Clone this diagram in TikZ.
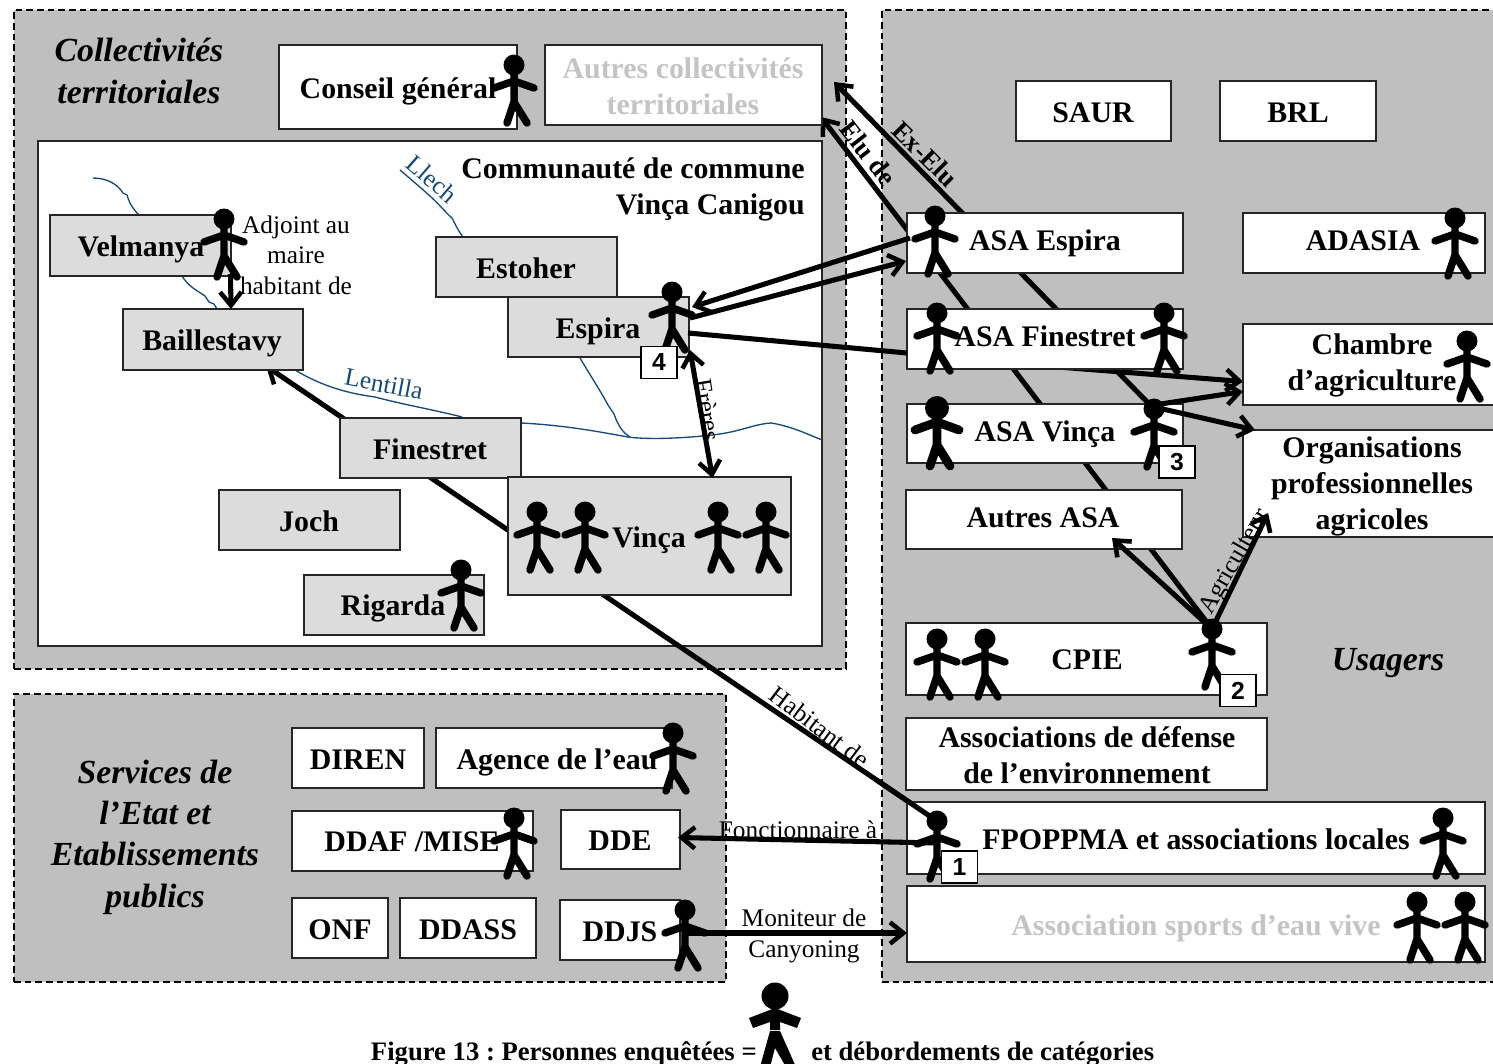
\documentclass[tikz,border=0pt]{standalone}
\usepackage{fontspec}
\setmainfont{Liberation Serif}
\newfontfamily\badgefont{Liberation Sans}
\usetikzlibrary{arrows.meta,calc}
\pgfdeclarelayer{panels}
\pgfdeclarelayer{under}
\pgfsetlayers{panels,under,main}
\definecolor{panelgrey}{HTML}{BFBFBF}
\definecolor{boxgrey}{HTML}{DCDCDC}
\definecolor{fadedtext}{HTML}{C4C4C4}
\definecolor{river}{HTML}{174A7C}
\tikzset{
  panel/.style={draw=black,line width=1.9pt,dashed,dash pattern=on 5pt off 3pt,fill=panelgrey},
  boxw/.style={draw=black!85,line width=1.1pt,fill=white},
  boxg/.style={draw=black!85,line width=1.1pt,fill=boxgrey},
  badge/.style={draw=black,line width=1pt,fill=white,inner sep=0pt,outer sep=0pt,minimum width=27pt,minimum height=24pt,font=\badgefont\bfseries\fontsize{18.5}{20}\selectfont},
  boldt/.style={font=\fontsize{22.4}{27}\selectfont\bfseries,inner sep=0pt,anchor=base},
  boldm/.style={font=\fontsize{22.4}{27}\selectfont\bfseries,inner sep=0pt,align=center},
  ital/.style={font=\fontsize{25.3}{31}\selectfont\bfseries\itshape,inner sep=0pt,align=center},
  lab/.style={font=\fontsize{19}{23}\selectfont,inner sep=0pt,align=center},
  labb/.style={font=\fontsize{20}{23}\selectfont\bfseries,inner sep=0pt},
  riverlab/.style={font=\fontsize{19}{23}\selectfont,inner sep=0pt,text=river},
  capt/.style={font=\fontsize{20}{23}\selectfont\bfseries\frenchspacing,inner sep=0pt,anchor=base},
  conn/.style={draw=black,line width=3.8pt},
  tip/.style={-{Straight Barb[length=10pt,width=16pt,line width=3.4pt]}},
  tips/.style={{Straight Barb[length=10pt,width=16pt,line width=3.4pt]}-{Straight Barb[length=10pt,width=16pt,line width=3.4pt]}},
  riv/.style={draw=river,line width=1pt},
  stick/.pic={
    \fill[black] (0,0) circle (10.5);
    \draw[black,line width=5.6pt,line cap=round,line join=round]
      (0,0) -- (0,37) (-20,23) -- (0,16) -- (20,23) (-7,58) -- (0,37) -- (13,58);
  },
  stickb/.pic={
    \fill[black] (0,0) circle (12);
    \draw[black,line width=6.6pt,line cap=round,line join=round]
      (0,0) -- (0,37) (-22,22) -- (0,14) -- (22,22) (-7,58) -- (0,37) -- (13,58);
  }
}
\newcommand{\bx}[6]{%
  \pgfmathsetmacro{\bw}{(#4-#2)*0.75}\pgfmathsetmacro{\bh}{(#5-#3)*0.75}%
  \node[#6,inner sep=0pt,outer sep=0pt,minimum width=\bw pt,minimum height=\bh pt] (#1) at ({(#2+#4)/2},{(#3+#5)/2}) {};}
\newcommand{\person}[3]{\coordinate (#1) at (#2,#3); \pic at (#1) {stick};}
\begin{document}
\begin{tikzpicture}[x=0.75pt,y=-0.75pt]
\useasboundingbox (0,0) rectangle (1493,1064);
% panels
\begin{pgfonlayer}{panels}
\bx{pcoll}{14}{10}{846}{669}{panel}
\bx{pserv}{14}{694}{726}{982}{panel}
\bx{pusag}{882}{10}{1510}{982}{panel}
\bx{comcom}{38}{141}{822}{646}{boxw}
% rivers
\draw[riv] (93,178) .. controls (108,178) and (118,185) .. (123,193) -- (127,195) .. controls (130,205) and (134,210) .. (139,215);
\draw[riv] (182,276) .. controls (188,286) and (196,290) .. (205,296) -- (209,302) -- (214,304) -- (217,309);
\draw[riv] (400,170) -- (421,188) -- (431,197) .. controls (440,205) and (445,212) .. (452,218) .. controls (456,226) and (459,232) .. (463,237);
\draw[riv] (295,370) .. controls (320,385) and (345,393) .. (375,397) .. controls (405,405) and (435,410) .. (462,417);
\draw[riv] (521,423) .. controls (560,425) and (590,430) .. (628,437) .. controls (650,440) and (690,438) .. (720,434) .. controls (745,430) and (755,424) .. (771,423) .. controls (790,426) and (805,433) .. (822,440);
\draw[riv] (580,358) .. controls (590,375) and (600,390) .. (608,405) -- (614,414) .. controls (618,425) and (622,432) .. (630,437);
\end{pgfonlayer}
\node[riverlab,rotate=-41] (llech) at (432,179) {Llech};
\node[riverlab,rotate=-11] (lentilla) at (384,384) {Lentilla};
% boxes
\bx{autres}{545}{45}{822}{125}{boxw}
\bx{bailles}{123}{309}{303}{370}{boxg}
\bx{conseil}{279}{45}{517}{129}{boxw}
\bx{saur}{1016}{81}{1171}{141}{boxw}
\bx{brl}{1220}{81}{1376}{141}{boxw}
\bx{asaE}{907}{213}{1183}{273}{boxw}
\bx{adasia}{1243}{213}{1485}{273}{boxw}
\bx{asaF}{907}{309}{1183}{369}{boxw}
\bx{chambre}{1243}{324}{1510}{405}{boxw}
\bx{asaV}{907}{404}{1183}{463}{boxw}
\bx{orgs}{1243}{430}{1510}{537}{boxw}
\bx{autresasa}{906}{490}{1182}{549}{boxw}
\bx{cpie}{906}{623}{1267}{695}{boxw}
\bx{defense}{906}{718}{1267}{790}{boxw}
\bx{fpoppma}{907}{802}{1485}{874}{boxw}
\bx{sports}{907}{886}{1485}{962}{boxw}
\bx{velmanya}{50}{215}{231}{276}{boxg}
\bx{estoher}{436}{237}{617}{297}{boxg}
\bx{espira}{508}{297}{689}{357}{boxg}
\bx{finestret}{340}{418}{521}{478}{boxg}
\bx{joch}{219}{490}{400}{550}{boxg}
\bx{rigarda}{304}{575}{484}{635}{boxg}
\bx{vinca}{508}{477}{791}{595}{boxg}
\bx{diren}{292}{728}{424}{788}{boxw}
\bx{agence}{436}{728}{672}{788}{boxw}
\bx{ddaf}{292}{811}{533}{871}{boxw}
\bx{dde}{561}{810}{680}{869}{boxw}
\bx{onf}{292}{898}{388}{958}{boxw}
\bx{ddass}{400}{898}{536}{958}{boxw}
\bx{ddjs}{560}{900}{680}{960}{boxw}
% person positions used by connectors
\coordinate (pCPIEc) at (1212,629);
\coordinate (pVincaR) at (1154,409);
\coordinate (pFP) at (937,821);
\coordinate (pEspira) at (672,292);
\coordinate (pDDJS) at (685,910);
\coordinate (pASAE) at (935,216);
\coordinate (habtip) at ([shift={(-37,-4)}]bailles.south east);
% connectors that run behind the boxes
\begin{pgfonlayer}{under}
\draw[conn,tip] (pCPIEc) -- ([shift={(-1,-8)}]autres.south east);
\draw[conn,tip] (pVincaR) -- ([shift={(12,-3)}]autres.east);
\draw[conn,tip] (pFP) -- (habtip);
\draw[conn,tip] ([shift={(0,-3)}]asaF.south) -- ([shift={(0,17)}]chambre.west);
\end{pgfonlayer}
% texts
\node[ital] (tcoll) at (139,71) {Collectivités\\territoriales};
\node[ital] (tserv) at (155,837) {Services de\\l’Etat et\\Etablissements\\publics};
\node[ital,anchor=base] (tusag) at (1388,670) {Usagers};
\node[boldt] (tconseil) at (398,98) {Conseil général};
\node[boldm,text=fadedtext] (tautres) at (683,86) {Autres collectivités\\territoriales};
\node[boldm,anchor=east] (tcomcom) at (805,189) {\hfill Communauté de commune\\\hfill Vinça Canigou};
\node[boldt] (tsaur) at (1093,122) {SAUR};
\node[boldt] (tbrl) at (1298,122) {BRL};
\node[boldt] (tasaE) at (1045,250) {ASA Espira};
\node[boldt] (tadasia) at (1363,250) {ADASIA};
\node[boldt] (tasaF) at (1045,346) {ASA Finestret};
\node[boldm] (tchambre) at (1372,365) {Chambre\\d’agriculture};
\node[boldt] (tasaV) at (1045,441) {ASA Vinça};
\node[boldm] (torgs) at (1372,486) {Organisations\\professionnelles\\agricoles};
\node[boldt] (tautresasa) at (1043,527) {Autres ASA};
\node[boldt] (tcpie) at (1087,669) {CPIE};
\node[boldm] (tdefense) at (1087,755) {Associations de défense\\de l’environnement};
\node[boldt] (tfp) at (1196,849) {FPOPPMA et associations locales};
\node[boldt,text=fadedtext] (tsports) at (1196,935) {Association sports d’eau vive};
\node[boldt] (tvelm) at (141,256) {Velmanya};
\node[boldt] (tbaill) at (212,350) {Baillestavy};
\node[boldt] (testo) at (526,278) {Estoher};
\node[boldt] (tesp) at (598,338) {Espira};
\node[boldt] (tfin) at (430,459) {Finestret};
\node[boldt] (tjoch) at (309,531) {Joch};
\node[boldt] (trig) at (393,615) {Rigarda};
\node[boldt] (tvinca) at (649,547) {Vinça};
\node[boldt] (tdiren) at (358,769) {DIREN};
\node[boldt] (tagence) at (557,769) {Agence de l’eau};
\node[boldt] (tddaf) at (412,851) {DDAF /MISE};
\node[boldt] (tdde) at (620,850) {DDE};
\node[boldt] (tonf) at (340,939) {ONF};
\node[boldt] (tddass) at (468,939) {DDASS};
\node[boldt] (tddjs) at (620,941) {DDJS};
% connectors over the boxes
\draw[conn] (pFP) -- ($(pFP)!0.09!(habtip)$);
\draw[conn,tip] ([shift={(90,-2)}]velmanya.south) -- ([shift={(18,0)}]bailles.north);
\draw[conn,tip] ([shift={(-25,22)}]pASAE) -- ([shift={(20,15)}]pEspira);
\draw[conn,tip] ([shift={(18,26)}]pEspira) -- ([shift={(-1,18)}]asaE.west);
\draw[conn] ([shift={(16,41)}]pEspira) -- ([shift={(0,14)}]asaF.west);
\draw[conn,tips] ([shift={(18,58)}]pEspira) -- ([shift={(63,1)}]vinca.north);
\draw[conn,tip] ([shift={(0,-4)}]pVincaR) -- ([shift={(0,27)}]chambre.west);
\draw[conn,tip] ([shift={(0,-2)}]pVincaR) -- ([shift={(12,0)}]orgs.north west);
\draw[conn,tip] (pCPIEc) -- ([shift={(68,-11)}]autresasa.south);
\draw[conn,tip] (pCPIEc) -- ([shift={(25,-24)}]orgs.south west);
\draw[conn,tip] ([shift={(0,22)}]pFP) -- ([shift={(-2,-2)}]dde.east);
\draw[conn,tip] ([shift={(0,23)}]pDDJS) -- ([shift={(0,9)}]sports.west);
% persons
\person{p1}{514}{65}
\person{p2}{224}{219}
\pic at (pEspira) {stick};
\person{p4}{537}{512}
\person{p5}{585}{512}
\person{p6}{718}{512}
\person{p7}{766}{512}
\person{p8}{461}{570}
\person{p9}{673}{733}
\person{p10}{514}{818}
\pic at (pDDJS) {stick};
\pic at (pASAE) {stick};
\person{p13}{937}{313}
\person{p14}{1164}{313}
\coordinate (pVincaL) at (937,408);
\pic at (pVincaL) {stickb};
\pic at (pVincaR) {stick};
\person{p17}{1455}{218}
\person{p18}{1467}{341}
\person{p19}{937}{639}
\person{p20}{985}{639}
\pic at (pCPIEc) {stick};
\pic at (pFP) {stick};
\person{p23}{1443}{818}
\person{p24}{1417}{902}
\person{p25}{1465}{902}
% badges
\node[badge] (b1) at (959.5,867) {1};
\node[badge] (b2) at (1238,690.5) {2};
\node[badge] (b3) at (1177,462) {3};
\node[badge] (b4) at (659,362.5) {4};
% connector labels
\node[lab] (ladj) at (296,255) {Adjoint au\\maire\\habitant de};
\node[lab,rotate=-81] (lfreres) at (708,410) {Frères};
\node[lab,rotate=-37] (lhab) at (820,727) {Habitant de};
\node[lab] (lfonc) at (798,830) {Fonctionnaire à};
\node[lab] (lmon) at (804,936) {Moniteur de\\Canyoning};
\node[labb,rotate=-52] (lelu) at (868,153) {Elu de};
\node[labb,rotate=-45] (lex) at (925,154) {Ex-Elu};
\node[lab,rotate=60] (lagri) at (1235,562) {Agriculteur};
% caption and legend figure
\node[capt,anchor=base east] (cap1) at (757,1060) {Figure 13 : Personnes enquêtées =};
\node[capt,anchor=base west] (cap2) at (811,1060) {et débordements de catégories};
\coordinate (legend) at (775,996);
\fill[black] (legend) circle (13.5);
\fill[black] ($(legend)+(0,12)$) -- ++(26,10) -- ++(-4,10) -- ++(-17,-6) -- ++(0,8) -- ++(-10,0) -- ++(0,-8) -- ++(-17,6) -- ++(-4,-10) -- cycle;
\fill[black] ($(legend)+(-5,35)$) -- ++(10,0) -- ++(16,36) -- ++(-10,0) -- ++(-11,-19) -- ++(-5,19) -- ++(-10,0) -- cycle;
\end{tikzpicture}
\end{document}
